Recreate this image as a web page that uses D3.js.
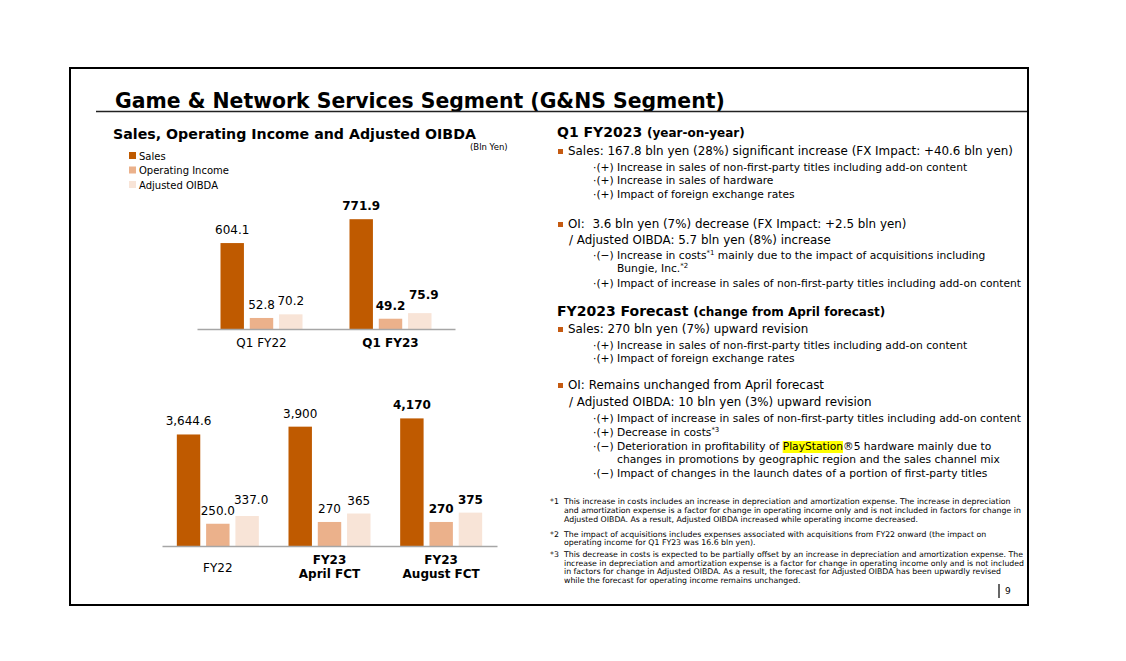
<!DOCTYPE html>
<html><head><meta charset="utf-8">
<script src="https://cdn.jsdelivr.net/npm/d3@7"></script>
<style>body{margin:0;background:#fff}svg{display:block}text{font-family:"DejaVu Sans",Verdana,sans-serif;fill:#000;white-space:pre}</style>
</head><body><svg id="c" width="1126" height="661"></svg>
<script>
// ---- data ----
const seriesNames = ["Sales", "Operating Income", "Adjusted OIBDA"];
const quarterCategories = ["Q1 FY22", "Q1 FY23"];
const quarterSales = [604.1, 771.9];
const quarterOI = [52.8, 49.2];
const quarterOIBDA = [70.2, 75.9];
const annualCategories = ["FY22", "FY23\nApril FCT", "FY23\nAugust FCT"];
const annualSales = [3644.6, 3900, 4170];
const annualOI = [250.0, 270, 270];
const annualOIBDA = [337.0, 365, 375];
const quarterDecimals = [1, 1];
const annualDecimals = [1, 0, 0];
const colors = ["#bf5a00", "#ebb18b", "#f8e4d7"];

const svg = d3.select("#c");
svg.append("rect").attr("width",1126).attr("height",661).attr("fill","#fff");
// frame
svg.append("rect").attr("x",70).attr("y",68).attr("width",958).attr("height",537)
  .attr("fill","none").attr("stroke","#000").attr("stroke-width",2);
// title
svg.append("text").attr("x",115).attr("y",108).attr("font-size",20.4).attr("font-weight","bold")
  .text("Game & Network Services Segment (G&NS Segment)");
svg.append("line").attr("x1",96).attr("x2",1027).attr("y1",111.5).attr("y2",111.5)
  .attr("stroke","#222").attr("stroke-width",1.3);
svg.append("text").attr("x",113).attr("y",139).attr("font-size",14.2).attr("font-weight","bold")
  .text("Sales, Operating Income and Adjusted OIBDA");
svg.append("text").attr("x",470).attr("y",150).attr("font-size",8.5).text("(Bln Yen)");

// legend
const leg = svg.append("g");
seriesNames.forEach((n,i)=>{
  leg.append("rect").attr("x",129).attr("y",152+i*14.5).attr("width",7).attr("height",7).attr("fill",colors[i]);
  leg.append("text").attr("x",139).attr("y",159.5+i*14.5).attr("font-size",10).text(n);
});

function fmt(v, d){ return d3.format(",."+d+"f")(v); }

function drawChart(cfg){
  const g = svg.append("g");
  const x0 = d3.scaleBand().domain(cfg.cats).range([cfg.xStart, cfg.xEnd]);
  const bw = x0.bandwidth();
  const x1 = d3.scaleBand().domain([0,1,2]).range([bw/2-41, bw/2+41]).paddingInner(0.2);
  const ySales = d3.scaleLinear().domain(cfg.salesDomain).range([cfg.base, cfg.base - cfg.salesPx]);
  const yInc = d3.scaleLinear().domain(cfg.incDomain).range([cfg.base, cfg.base - cfg.incPx]);
  const series = [cfg.sales, cfg.oi, cfg.oibda];
  cfg.cats.forEach((c, ci)=>{
    let prev = null;
    series.forEach((arr, si)=>{
      const y = si===0 ? ySales : yInc;
      const v = arr[ci];
      const bx = x0(c) + x1(si);
      g.append("rect").attr("x", bx).attr("y", y(v)).attr("width", x1.bandwidth())
        .attr("height", cfg.base - y(v)).attr("fill", colors[si]);
      let ly = y(v) - 9;
      const cx = bx + x1.bandwidth()/2;
      const t = g.append("text").attr("x", cx).attr("text-anchor","middle")
        .attr("font-size",12).attr("font-weight", ci===cfg.boldValue ? "bold":"normal")
        .text(fmt(v, cfg.decimals[ci]));
      const w = t.node().getComputedTextLength();
      if (si===2 && prev && cx - w/2 < prev.cx + prev.w/2 && Math.abs(ly - prev.ly) < 11) {
        ly = prev.ly - 11;
        t.attr("x", cx + 4);
      }
      t.attr("y", ly);
      prev = {cx, w, ly};
    });
  });
  const ax = g.append("g").attr("transform",`translate(0,${cfg.base})`)
    .call(d3.axisBottom(x0).tickSize(0).tickFormat(""));
  ax.select(".domain").attr("stroke","#a6a6a6").attr("stroke-width",1.5);
  cfg.cats.forEach((c, ci)=>{
    const lines = c.split("\n");
    const t = g.append("text").attr("x", x0(c)+bw/2).attr("text-anchor","middle")
      .attr("font-size",12).attr("font-weight", ci>=cfg.boldCatFrom ? "bold":"normal");
    const y0 = lines.length===1 ? cfg.catY1 : cfg.catY2;
    lines.forEach((l, li)=> t.append("tspan").attr("x", x0(c)+bw/2).attr("y", y0 + li*14).text(l));
  });
}

drawChart({cats: quarterCategories, sales: quarterSales, oi: quarterOI, oibda: quarterOIBDA,
  decimals: quarterDecimals, xStart:197, xEnd:455, base:329,
  salesDomain:[0,800], salesPx:113.8, incDomain:[0,100], incPx:20.9,
  boldValue:1, boldCatFrom:1, catY1:347, catY2:347});
drawChart({cats: annualCategories, sales: annualSales, oi: annualOI, oibda: annualOIBDA,
  decimals: annualDecimals, xStart:162, xEnd:497, base:546,
  salesDomain:[0,5000], salesPx:153, incDomain:[0,500], incPx:44.5,
  boldValue:2, boldCatFrom:1, catY1:572, catY2:564});

// ---- right text column ----
const R = svg.append("g");
const ORANGE = "#c55a11";
const SUB = 10.7;
function rich(x, y, parts, size){
  const t = R.append("text").attr("x", x).attr("y", y).attr("font-size", size);
  let sup = false;
  parts.forEach(p=>{
    if (typeof p === "string") p = {t:p};
    const ts = t.append("tspan").text(p.t);
    if (p.b) ts.attr("font-weight","bold");
    if (p.s) ts.attr("font-size", p.s);
    if (p.sup) { ts.attr("font-size", size*0.65).attr("dy", -4); sup = true; }
    else if (sup) { ts.attr("dy", 4); sup = false; }
  });
  return t;
}
function bullet(y){ R.append("rect").attr("x",558).attr("y",y-6).attr("width",5).attr("height",5).attr("fill",ORANGE); }
function sub(y, mark, parts){
  R.append("text").attr("x",593).attr("y",y).attr("font-size",SUB).text("·"+mark);
  return rich(617, y, parts, SUB);
}
const MAIN = 11.9;
rich(557, 137, [{t:"Q1 FY2023 ", b:1, s:14}, {t:"(year-on-year)", b:1, s:12}], 14);
bullet(155); rich(568, 155, ["Sales: 167.8 bln yen (28%) significant increase (FX Impact: +40.6 bln yen)"], MAIN);
sub(171, "(+)", ["Increase in sales of non-first-party titles including add-on content"]);
sub(184, "(+)", ["Increase in sales of hardware"]);
sub(198, "(+)", ["Impact of foreign exchange rates"]);
bullet(228); rich(568, 228, ["OI:  3.6 bln yen (7%) decrease (FX Impact: +2.5 bln yen)"], MAIN);
rich(569, 244, ["/ Adjusted OIBDA: 5.7 bln yen (8%) increase"], MAIN);
sub(259, "(−)", ["Increase in costs", {t:"*1", sup:1}, " mainly due to the impact of acquisitions including"]);
rich(617, 272, ["Bungie, Inc.", {t:"*2", sup:1}], SUB);
sub(287, "(+)", ["Impact of increase in sales of non-first-party titles including add-on content"]);
rich(557, 316, [{t:"FY2023 Forecast ", b:1, s:14}, {t:"(change from April forecast)", b:1, s:12}], 14);
bullet(333); rich(568, 333, ["Sales: 270 bln yen (7%) upward revision"], MAIN);
sub(349, "(+)", ["Increase in sales of non-first-party titles including add-on content"]);
sub(362, "(+)", ["Impact of foreign exchange rates"]);
bullet(389); rich(568, 389, ["OI: Remains unchanged from April forecast"], MAIN);
rich(569, 406, ["/ Adjusted OIBDA: 10 bln yen (3%) upward revision"], MAIN);
sub(422, "(+)", ["Impact of increase in sales of non-first-party titles including add-on content"]);
sub(436, "(+)", ["Decrease in costs", {t:"*3", sup:1}]);
const ps = sub(450, "(−)", ["Deterioration in profitability of PlayStation®5 hardware mainly due to"]);
{
  const node = ps.node();
  const full = node.textContent;
  const i0 = full.indexOf("PlayStation");
  const sx = node.getStartPositionOfChar(i0).x;
  const w = node.getSubStringLength(i0, 11);
  R.insert("rect", "text").attr("x", sx).attr("y", 441).attr("width", w).attr("height", 12).attr("fill", "#ffff00");
}
rich(617, 463, ["changes in promotions by geographic region and the sales channel mix"], SUB);
sub(477, "(−)", ["Impact of changes in the launch dates of a portion of first-party titles"]);

// footnotes
const FN = 7.8;
const notes = [
  ["*1", [504, 513, 522], ["This increase in costs includes an increase in depreciation and amortization expense. The increase in depreciation",
    "and amortization expense is a factor for change in operating income only and is not included in factors for change in",
    "Adjusted OIBDA. As a result, Adjusted OIBDA increased while operating income decreased."]],
  ["*2", [537, 545], ["The impact of acquisitions includes expenses associated with acquisitions from FY22 onward (the impact on",
    "operating income for Q1 FY23 was 16.6 bln yen)."]],
  ["*3", [557, 566, 574, 583], ["This decrease in costs is expected to be partially offset by an increase in depreciation and amortization expense. The",
    "increase in depreciation and amortization expense is a factor for change in operating income only and is not included",
    "in factors for change in Adjusted OIBDA. As a result, the forecast for Adjusted OIBDA has been upwardly revised",
    "while the forecast for operating income remains unchanged."]]
];
notes.forEach(([m, ys, lines])=>{
  R.append("text").attr("x",550).attr("y",ys[0]).attr("font-size",FN).text(m);
  lines.forEach((l,i)=> R.append("text").attr("x",564).attr("y",ys[i]).attr("font-size",FN).text(l));
});
// page number
R.append("line").attr("x1",999).attr("x2",999).attr("y1",584).attr("y2",598).attr("stroke","#000").attr("stroke-width",1.2);
R.append("text").attr("x",1005).attr("y",594).attr("font-size",9).text("9");
</script></body></html>
